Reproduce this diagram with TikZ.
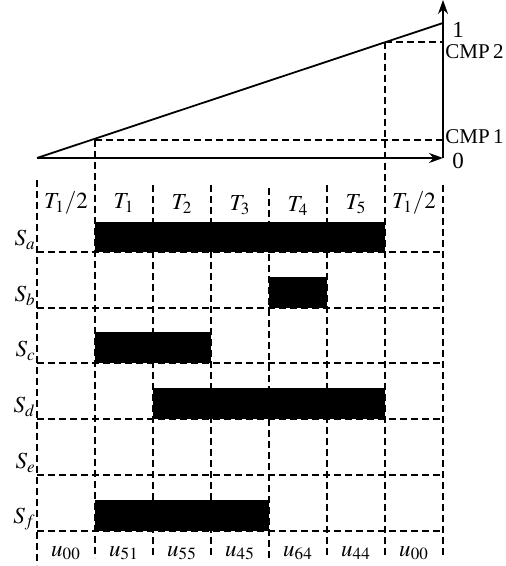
\documentclass[tikz,border=0pt]{standalone}
\usepackage{mathptmx}
\usepackage{fontspec}
\setmainfont{Liberation Serif}
\usetikzlibrary{arrows.meta}
\begin{document}
\begin{tikzpicture}[x=0.5pt, y=-0.5pt, >={Stealth[length=7pt,width=5pt]},
		every node/.style={font=\fontsize{11.5}{14}\selectfont},
		cmplabel/.style={anchor=west, inner sep=0.5pt, font=\fontsize{10.5}{12}\selectfont},
		axis/.style={line width=0.9pt},
		gridline/.style={line width=0.7pt, dash pattern=on 3.5pt off 2pt},
		bar/.style={fill=black}]
		\useasboundingbox (0, 0) rectangle (505, 566);
		
		\coordinate (O) at (37, 158);
		\coordinate (X) at (443, 158);
		\coordinate (Y) at (443, 0);
		\coordinate (R) at (443, 23);
		\coordinate (C1) at (95, 140);
		\coordinate (C2) at (385, 42);
		\draw[axis, ->] (O)--(X);
		\draw[axis, ->] (X)--(Y);
		\draw[axis] (O)--(R);
		\draw[gridline] (C1)--(C1 -| X);
		\draw[gridline] (C2)--(C2 -| X);
		\node (one) at (458, 30) {1};
		\node (zero) at (458, 161) {0};
		\node[cmplabel] (cmp2) at (444, 52) {CMP\,2};
		\node[cmplabel] (cmp1) at (444, 137) {CMP\,1};
		
		\fill[bar] (95, 222) rectangle (385, 252);
		\fill[bar] (269, 277) rectangle (327, 308);
		\fill[bar] (95, 332) rectangle (211, 363);
		\fill[bar] (153, 388) rectangle (385, 419);
		\fill[bar] (95, 500) rectangle (269, 531);
		
		\draw[gridline] (37, 180)--(37, 565);
		\draw[gridline] (C1)--(95, 558);
		\draw[gridline] (153, 185)--(153, 558);
		\draw[gridline] (211, 185)--(211, 558);
		\draw[gridline] (269, 188)--(269, 558);
		\draw[gridline] (327, 185)--(327, 558);
		\draw[gridline] (C2)--(385, 558);
		\draw[gridline] (443, 185)--(443, 558);
		
		\draw[gridline] (37, 252)--(443, 252);
		\draw[gridline] (37, 308)--(443, 308);
		\draw[gridline] (37, 363)--(443, 363);
		\draw[gridline] (37, 419)--(443, 419);
		\draw[gridline] (37, 475)--(443, 475);
		\draw[gridline] (37, 531)--(443, 531);
		
		\node (t0) at (66, 203) {$T_1/2$};
		\node (t1) at (124, 203) {$T_1$};
		\node (t2) at (182, 204) {$T_2$};
		\node (t3) at (240, 205) {$T_3$};
		\node (t4) at (298, 206) {$T_4$};
		\node (t5) at (356, 204) {$T_5$};
		\node (t6) at (414, 203) {$T_1/2$};
		
		\node[anchor=east, inner sep=1pt] (sa) at (38, 240) {$S_a$};
		\node[anchor=east, inner sep=1pt] (sb) at (38, 296) {$S_b$};
		\node[anchor=east, inner sep=1pt] (sc) at (38, 351) {$S_c$};
		\node[anchor=east, inner sep=1pt] (sd) at (38, 407) {$S_d$};
		\node[anchor=east, inner sep=1pt] (se) at (38, 463) {$S_e$};
		\node[anchor=east, inner sep=1pt] (sf) at (38, 519) {$S_f$};
		
		\node (u0) at (66, 553) {$u_{00}$};
		\node (u1) at (124, 553) {$u_{51}$};
		\node (u2) at (182, 553) {$u_{55}$};
		\node (u3) at (240, 553) {$u_{45}$};
		\node (u4) at (298, 553) {$u_{64}$};
		\node (u5) at (356, 553) {$u_{44}$};
		\node (u6) at (414, 553) {$u_{00}$};
	\end{tikzpicture}
\end{document}
